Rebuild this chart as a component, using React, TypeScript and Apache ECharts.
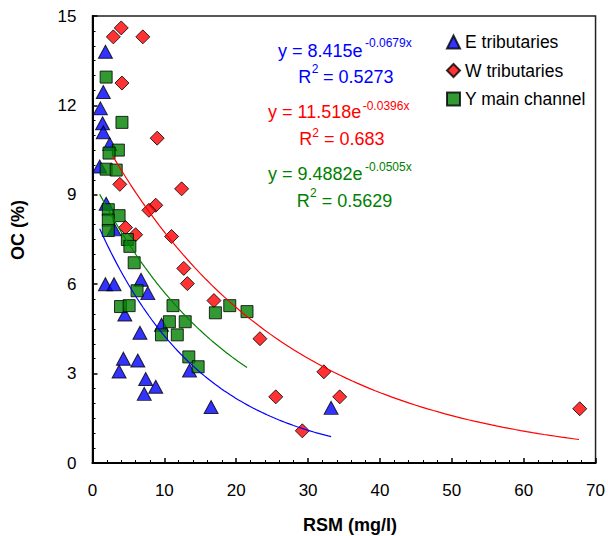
import React, { useEffect, useRef } from "react";
import * as echarts from "echarts";

// E tributaries (blue triangles)
const eX = [1.8, 1.5, 1.1, 1.4, 1.5, 2.4, 1.0, 1.9, 3.0, 1.8, 3.0, 6.75, 7.7, 4.5, 6.6, 9.6, 4.3, 6.3, 3.7, 7.4, 8.8, 7.2, 13.5, 16.5, 33.2];
const eY = [13.8, 12.45, 11.9, 11.4, 11.1, 10.7, 9.95, 8.7, 7.84, 6.0, 6.0, 6.15, 5.7, 4.98, 4.37, 4.64, 3.5, 3.44, 3.07, 2.82, 2.56, 2.32, 3.1, 1.88, 1.85];

// W tributaries (red diamonds)
const wX = [4.0, 2.9, 7.0, 4.1, 9.0, 3.8, 12.4, 8.8, 7.85, 4.6, 6.0, 11.0, 12.7, 13.2, 16.9, 23.3, 32.2, 25.5, 34.4, 29.2, 67.8];
const wY = [14.6, 14.3, 14.3, 12.75, 10.9, 9.35, 9.2, 8.65, 8.48, 7.9, 7.66, 7.6, 6.53, 6.02, 5.45, 4.17, 3.06, 2.22, 2.22, 1.08, 1.82];

// Y main channel (green squares)
const yX = [1.9, 4.1, 3.6, 2.3, 1.9, 3.3, 2.2, 3.7, 2.2, 2.2, 4.85, 5.2, 5.8, 6.2, 3.9, 5.1, 11.2, 17.1, 19.1, 21.5, 10.7, 12.9, 9.6, 11.8, 13.4, 14.7];
const yY = [12.95, 11.43, 10.5, 10.4, 9.86, 9.83, 8.5, 8.3, 8.15, 7.8, 7.5, 7.27, 6.72, 5.78, 5.25, 5.28, 5.28, 5.04, 5.28, 5.08, 4.74, 4.74, 4.3, 4.3, 3.56, 3.23];

// Trendline coefficients (y = a * e^(b x)) and drawn ranges
const trendE = { a: 8.415, b: -0.0679, from: 1.0, to: 33.2 };
const trendW = { a: 11.518, b: -0.0396, from: 2.85, to: 67.7 };
const trendY = { a: 9.4882, b: -0.0505, from: 1.0, to: 21.5 };

const xTicks = [0, 10, 20, 30, 40, 50, 60, 70];
const yTicks = [0, 3, 6, 9, 12, 15];

const FONT = "'Liberation Sans', Arial, sans-serif";
const BLUE = "#0000FF";
const RED = "#FF0000";
const GREEN = "#008000";
const GREEN_FILL = "#007F00";

function zip(xs: number[], ys: number[]) {
  return xs.map((x, i) => [x, ys[i]]);
}

function trend(t: { a: number; b: number; from: number; to: number }) {
  const pts: number[][] = [];
  const n = 80;
  for (let i = 0; i <= n; i++) {
    const x = t.from + ((t.to - t.from) * i) / n;
    pts.push([x, t.a * Math.exp(t.b * x)]);
  }
  return pts;
}

function txt(text: string, x: number, y: number, size: number, color: string, extra: any = {}) {
  return {
    type: "text",
    x,
    y,
    silent: true,
    style: {
      text,
      fill: color,
      font: `${extra.bold ? "bold " : ""}${size}px ${FONT}`,
      textAlign: extra.align || "left",
      textVerticalAlign: "middle",
      verticalAlign: "middle",
    },
    rotation: extra.rotation || 0,
  };
}

export default function App() {
  const ref = useRef<HTMLDivElement>(null);

  useEffect(() => {
    if (!ref.current) return;
    const chart = echarts.init(ref.current, null, { renderer: "svg" });
    const sym = { borderColor: "#000", borderWidth: 1 };
    chart.setOption({
      animation: false,
      backgroundColor: "#fff",
      grid: {
        left: 92.5,
        right: 11,
        top: 16,
        bottom: 73,
        show: true,
        borderColor: "#222",
        borderWidth: 1.5,
        backgroundColor: "transparent",
      },
      legend: {
        orient: "vertical",
        left: 446,
        top: 32,
        padding: 0,
        itemWidth: 13,
        itemHeight: 13,
        itemGap: 8.5,
        textStyle: { fontSize: 17.5, fontFamily: FONT, color: "#000", lineHeight: 20 },
        data: [
          { name: "E tributaries", icon: "triangle" },
          { name: "W tributaries", icon: "diamond" },
          { name: "Y main channel", icon: "rect" },
        ],
      },
      xAxis: {
        type: "value",
        min: xTicks[0],
        max: xTicks[xTicks.length - 1],
        interval: 10,
        axisLine: { lineStyle: { color: "#000", width: 2 } },
        axisTick: { inside: true, length: 5, lineStyle: { color: "#000", width: 1.5 } },
        minorTick: { show: true, splitNumber: 5, length: 3, lineStyle: { color: "#000", width: 1 } },
        splitLine: { show: false },
        axisLabel: { fontSize: 17, fontFamily: FONT, color: "#000", margin: 19 },
      },
      yAxis: {
        type: "value",
        min: yTicks[0],
        max: yTicks[yTicks.length - 1],
        interval: 3,
        axisLine: { show: true, lineStyle: { color: "#000", width: 2 } },
        axisTick: { show: true, inside: true, length: 5, lineStyle: { color: "#000", width: 1.5 } },
        minorTick: { show: true, splitNumber: 6, length: 3, lineStyle: { color: "#000", width: 1 } },
        splitLine: { show: false },
        axisLabel: { fontSize: 17, fontFamily: FONT, color: "#000", margin: 16 },
      },
      series: [
        {
          name: "E tributaries",
          type: "scatter",
          symbol: "triangle",
          symbolSize: [14, 13],
          itemStyle: { color: BLUE, ...sym },
          data: zip(eX, eY),
          z: 2,
        },
        {
          name: "W tributaries",
          type: "scatter",
          symbol: "diamond",
          symbolSize: [14, 14],
          itemStyle: { color: RED, ...sym },
          data: zip(wX, wY),
          z: 3,
        },
        {
          name: "Y main channel",
          type: "scatter",
          symbol: "rect",
          symbolSize: [12, 12],
          itemStyle: { color: GREEN_FILL, ...sym },
          data: zip(yX, yY),
          z: 4,
        },
        {
          type: "line",
          data: trend(trendE),
          showSymbol: false,
          symbol: "none",
          lineStyle: { color: BLUE, width: 1.2 },
          z: 5,
          silent: true,
        },
        {
          type: "line",
          data: trend(trendW),
          showSymbol: false,
          symbol: "none",
          lineStyle: { color: RED, width: 1.2 },
          z: 5,
          silent: true,
        },
        {
          type: "line",
          data: trend(trendY),
          showSymbol: false,
          symbol: "none",
          lineStyle: { color: GREEN, width: 1.2 },
          z: 5,
          silent: true,
        },
      ],
      graphic: [
        txt("y = 8.415e", 278, 50.7, 18, BLUE),
        txt("-0.0679x", 365, 43, 12, BLUE),
        txt("R", 298.3, 77.3, 18, BLUE),
        txt("2", 311.7, 69.3, 12, BLUE),
        txt(" = 0.5273", 318, 77.3, 18, BLUE),

        txt("y = 11.518e", 268, 111.7, 18, RED),
        txt("-0.0396x", 362.7, 106, 12, RED),
        txt("R", 299.3, 139, 18, RED),
        txt("2", 312.3, 132.7, 12, RED),
        txt(" = 0.683", 319, 139, 18, RED),

        txt("y = 9.4882e", 268, 174, 18, GREEN),
        txt("-0.0505x", 365, 166.7, 12, GREEN),
        txt("R", 296.7, 201, 18, GREEN),
        txt("2", 310, 193.3, 12, GREEN),
        txt(" = 0.5629", 316.7, 201, 18, GREEN),

        txt("RSM (mg/l)", 350, 525, 18, "#000", { bold: true, align: "center" }),
        txt("OC (%)", 17.5, 230, 18, "#000", { bold: true, align: "center", rotation: Math.PI / 2 }),
      ],
    });
    return () => chart.dispose();
  }, []);

  return <div ref={ref} style={{ position: "absolute", left: 0, top: 0, width: 608, height: 536 }} />;
}
